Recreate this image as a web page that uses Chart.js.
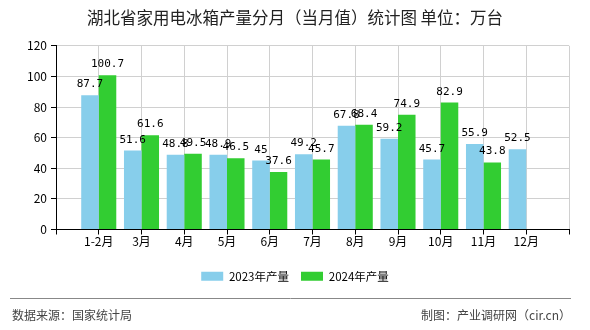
<!DOCTYPE html>
<html>
<head>
<meta charset="utf-8">
<script src="https://cdn.jsdelivr.net/npm/chart.js@4.4.1/dist/chart.umd.min.js"></script>
<style>
  html, body { margin: 0; padding: 0; background: #fff; }
  #wrap { width: 590px; height: 330px; position: relative; }
</style>
</head>
<body>
<div id="wrap"><canvas id="chart"></canvas></div>
<script>
// empty slots at both ends so labels sit on the grid lines like the original
const months = ['', '1-2月', '3月', '4月', '5月', '6月', '7月', '8月', '9月', '10月', '11月', '12月', ''];
const output2023 = [null, 87.7, 51.6, 48.8, 48.9, 45, 49.2, 67.8, 59.2, 45.7, 55.9, 52.5, null];
const output2024 = [null, 100.7, 61.6, 49.5, 46.5, 37.6, 45.7, 68.4, 74.9, 82.9, 43.8, null, null];
const yTicks = [0, 20, 40, 60, 80, 100, 120];

const labelFont = '"Noto Sans CJK SC", sans-serif';

// value labels above each bar
const barValues = {
    id: 'barValues',
    afterDatasetsDraw(chart) {
        const ctx = chart.ctx;
        ctx.save();
        ctx.font = '11px "DejaVu Sans Mono", monospace';
        ctx.fillStyle = '#000';
        ctx.textAlign = 'center';
        ctx.textBaseline = 'alphabetic';
        chart.data.datasets.forEach((ds, i) => {
            chart.getDatasetMeta(i).data.forEach((bar, j) => {
                const v = ds.data[j];
                if (v == null) return;
                ctx.fillText(String(v), bar.x, bar.y - 8);
            });
        });
        ctx.restore();
    }
};

// source line at the bottom
const footer = {
    id: 'footer',
    afterDraw(chart) {
        const ctx = chart.ctx;
        ctx.save();
        ctx.strokeStyle = '#888';
        ctx.lineWidth = 1;
        ctx.beginPath();
        ctx.moveTo(10, 298.5);
        ctx.lineTo(571, 298.5);
        ctx.stroke();
        ctx.font = '12px ' + labelFont;
        ctx.fillStyle = '#444';
        ctx.textBaseline = 'middle';
        ctx.textAlign = 'left';
        ctx.fillText('数据来源：国家统计局', 12, 315);
        ctx.textAlign = 'right';
        ctx.fillText('制图：产业调研网（cir.cn）', 571, 315);
        ctx.restore();
    }
};

new Chart(document.getElementById('chart'), {
    type: 'bar',
    data: {
        labels: months,
        datasets: [
            {
                label: '2023年产量',
                data: output2023,
                backgroundColor: '#87CEEB',
                categoryPercentage: 0.82,
                barPercentage: 1.0
            },
            {
                label: '2024年产量',
                data: output2024,
                backgroundColor: '#32CD32',
                categoryPercentage: 0.82,
                barPercentage: 1.0
            }
        ]
    },
    options: {
        responsive: true,
        maintainAspectRatio: false,
        animation: false,
        events: [],
        layout: {
            padding: { left: 0, right: 0, top: 0, bottom: 38 }
        },
        plugins: {
            title: {
                display: true,
                text: '湖北省家用电冰箱产量分月（当月值）统计图 单位：万台',
                color: '#222',
                font: { family: labelFont, size: 16.5, weight: 'normal' },
                padding: { top: 8, bottom: 18 }
            },
            legend: {
                position: 'bottom',
                labels: {
                    boxWidth: 22,
                    boxHeight: 9,
                    color: '#000',
                    padding: 12,
                    font: { family: labelFont, size: 11.5 }
                }
            },
            tooltip: { enabled: false }
        },
        scales: {
            x: {
                offset: false,
                grid: {
                    offset: false,
                    color: '#d0d0d0',
                    tickColor: '#000',
                    tickLength: 5
                },
                border: { color: '#000' },
                ticks: {
                    color: '#000',
                    padding: 0,
                    autoSkip: false,
                    maxRotation: 0,
                    font: { family: labelFont, size: 12 }
                },
                afterFit(scale) { scale.height = 29; }
            },
            y: {
                min: yTicks[0],
                max: yTicks[yTicks.length - 1],
                afterBuildTicks(scale) {
                    scale.ticks = yTicks.map(v => ({ value: v }));
                },
                grid: {
                    color: '#d0d0d0',
                    tickColor: '#000',
                    tickLength: 5
                },
                border: { color: '#000' },
                ticks: {
                    color: '#000',
                    padding: 4,
                    font: { family: labelFont, size: 12 }
                },
                afterFit(scale) { scale.width = 56; }
            },
            // empty right-hand axis, only keeps a margin so the title stays centred on the page
            yRight: {
                position: 'right',
                min: 0,
                max: 120,
                grid: { display: false, drawTicks: false },
                border: { display: false },
                ticks: { display: false },
                afterFit(scale) { scale.width = 21; }
            }
        }
    },
    plugins: [barValues, footer]
});
</script>
</body>
</html>
